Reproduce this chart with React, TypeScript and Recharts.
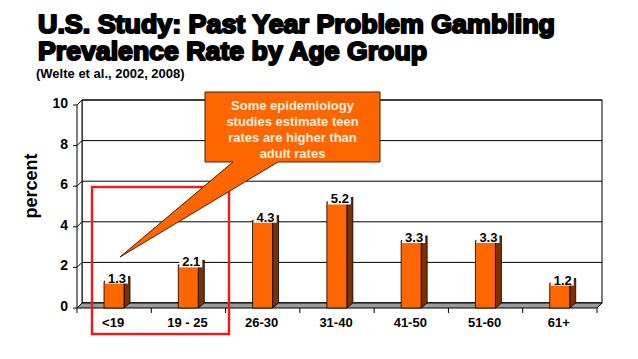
import { BarChart, Bar, XAxis, YAxis, CartesianGrid, ReferenceArea, LabelList } from "recharts";

const categories = ["<19", "19 - 25", "26-30", "31-40", "41-50", "51-60", "61+"];
const rates = [1.3, 2.1, 4.3, 5.2, 3.3, 3.3, 1.2];
const yTicks = [0, 2, 4, 6, 8, 10];
const calloutLines = ["Some epidemiology", "studies estimate teen", "rates are higher than", "adult rates"];

const FONT = "'Liberation Sans', Arial, sans-serif";
const W = 638;
const H = 359;
const MARGIN = { top: 100, right: 36, bottom: 0, left: 0 };
const Y_AXIS_W = 82;
const X_AXIS_H = 56;
const PLOT_LEFT = MARGIN.left + Y_AXIS_W;
const PLOT_W = W - PLOT_LEFT - MARGIN.right;
const BAND = PLOT_W / categories.length;
const D = 5; // depth between back wall and front plane
const SX = 6; // bar side depth
const SY = 5;
const FLOOR_FRONT = H - MARGIN.bottom - X_AXIS_H + D;

const ORANGE = "#FF6600";
const BROWN = "#7A3000";

const data = categories.map((group, i) => ({ group, rate: rates[i] }));

const Bar3D = (props: any) => {
  const { x, y, width, height } = props;
  if (!height) return null;
  const fx = x - D;
  const fy = y + D;
  return (
    <g stroke="#000" strokeWidth={0.8} strokeLinejoin="round">
      <polygon
        points={`${fx + width},${fy} ${fx + width + SX},${fy - SY} ${fx + width + SX},${fy + height - SY} ${fx + width},${fy + height}`}
        fill={BROWN}
      />
      <polygon
        points={`${fx},${fy} ${fx + SX},${fy - SY} ${fx + width + SX},${fy - SY} ${fx + width},${fy}`}
        fill={ORANGE}
      />
      <rect x={fx} y={fy} width={width} height={height} fill={ORANGE} />
    </g>
  );
};

const ValueLabel = (props: any) => {
  const { x, y, width, value } = props;
  const fx = x - D;
  const fy = y + D;
  return (
    <g>
      <rect x={fx + 1} y={fy - 9} width={width + 3} height={11} fill="#fff" />
      <text x={fx + width / 2 + 3} y={fy + 1} textAnchor="middle" fontFamily={FONT} fontWeight="bold" fontSize={13} fill="#000">
        {value}
      </text>
    </g>
  );
};

const XTick = (props: any) => {
  const { x, payload, index } = props;
  const left = x - BAND / 2 - D;
  const last = index === categories.length - 1;
  return (
    <g>
      <line x1={left} y1={FLOOR_FRONT} x2={left} y2={FLOOR_FRONT + 5} stroke="#000" />
      {last && <line x1={left + BAND} y1={FLOOR_FRONT} x2={left + BAND} y2={FLOOR_FRONT + 5} stroke="#000" />}
      <text x={x - D - 1} y={FLOOR_FRONT + 19} textAnchor="middle" fontFamily={FONT} fontWeight="bold" fontSize={13} fill="#000">
        {payload.value}
      </text>
    </g>
  );
};

const YTick = (props: any) => {
  const { y, payload } = props;
  return (
    <g>
      <polyline
        points={`${PLOT_LEFT},${y} ${PLOT_LEFT - D},${y + D} ${PLOT_LEFT - D - 4},${y + D}`}
        fill="none"
        stroke="#000"
      />
      <text x={68} y={y + 8} textAnchor="end" fontFamily={FONT} fontWeight="bold" fontSize={14} fill="#000">
        {payload.value}
      </text>
    </g>
  );
};

const Walls = (props: any) => {
  const { x, y, width, height } = props;
  const b = y + height;
  return (
    <g stroke="#000" strokeWidth={1}>
      <rect x={x} y={y} width={width} height={height} fill="none" />
      <polygon points={`${x - D},${y + D} ${x},${y} ${x},${b} ${x - D},${b + D}`} fill="#fff" />
      <polygon points={`${x - D},${b + D} ${x},${b} ${x + width},${b} ${x + width - D},${b + D}`} fill="#9a9a9a" />
    </g>
  );
};

export default function App() {
  return (
    <div style={{ position: "absolute", left: 0, top: 0, width: W, height: H, background: "#fff", overflow: "hidden" }}>
      <BarChart width={W} height={H} data={data} margin={MARGIN} barSize={20}>
        <ReferenceArea y1={0} y2={10} shape={<Walls />} ifOverflow="visible" />
        <CartesianGrid vertical={false} stroke="#000" strokeWidth={1} fill="none" />
        <XAxis dataKey="group" height={X_AXIS_H} axisLine={false} tickLine={false} interval={0} tick={<XTick />} />
        <YAxis width={Y_AXIS_W} domain={[0, 10]} ticks={yTicks} axisLine={false} tickLine={false} tick={<YTick />} />
        <Bar dataKey="rate" shape={<Bar3D />} isAnimationActive={false}>
          <LabelList dataKey="rate" content={<ValueLabel />} />
        </Bar>
      </BarChart>

      <svg width={W} height={H} style={{ position: "absolute", left: 0, top: 0, pointerEvents: "none" }}>
        <g fontFamily={FONT} fontWeight="bold" fill="#000" stroke="#000" strokeWidth={2} strokeLinejoin="round">
          <text x={38} y={33} fontSize={26} textLength={517} lengthAdjust="spacingAndGlyphs">
            U.S. Study: Past Year Problem Gambling
          </text>
          <text x={38} y={60} fontSize={26} textLength={389} lengthAdjust="spacingAndGlyphs">
            Prevalence Rate by Age Group
          </text>
        </g>
        <text x={36} y={78} fontFamily={FONT} fontWeight="bold" fontSize={13} fill="#000">
          (Welte et al., 2002, 2008)
        </text>
        <text
          transform="translate(37,186) rotate(-90)"
          textAnchor="middle"
          fontFamily={FONT}
          fontWeight="bold"
          fontSize={18}
          fill="#000"
        >
          percent
        </text>

        <rect x={92} y={187} width={137} height={147} fill="none" stroke="#E3201E" strokeWidth={2.5} />

        <path d="M205,92 H380 V162 H278 L120,257 L233,162 H205 Z" fill={ORANGE} stroke="#4a2000" strokeWidth={1} />
        {calloutLines.map((line, i) => (
          <text
            key={line}
            x={292.5}
            y={110 + i * 16}
            textAnchor="middle"
            fontFamily={FONT}
            fontWeight="bold"
            fontSize={13}
            fill="#FFF1E2"
          >
            {line}
          </text>
        ))}
      </svg>
    </div>
  );
}
